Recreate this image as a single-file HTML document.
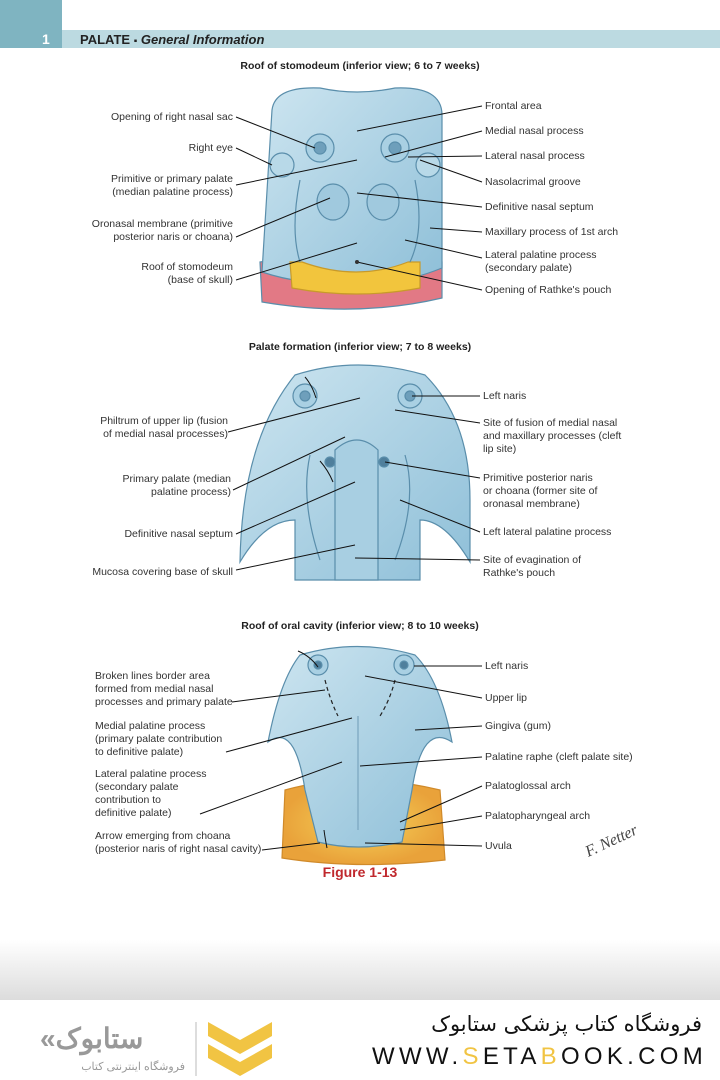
<!DOCTYPE html>
<html><head><meta charset="utf-8"><style>
body{margin:0;width:720px;height:1080px;position:relative;background:#fff;overflow:hidden;font-family:"Liberation Sans","Noto Sans CJK SC",sans-serif;}
.t{position:absolute;font-size:10.5px;color:#333;white-space:nowrap;line-height:13px}
.r{text-align:right}
.h{position:absolute;font-size:10.5px;font-weight:bold;color:#222;width:720px;text-align:center}
</style></head><body>
<div style="position:absolute;left:0;top:0;width:62px;height:48px;background:#7fb4c1"></div>
<div style="position:absolute;left:62px;top:30px;width:658px;height:18px;background:#bcdae1"></div>
<div style="position:absolute;left:42px;top:31px;color:#fff;font-weight:bold;font-size:14px">1</div>
<div style="position:absolute;left:80px;top:32px;font-size:13px;font-weight:bold;color:#222">PALATE <span style="font-size:10px">▪</span> <i>General Information</i></div>

<svg style="position:absolute;left:0;top:0" width="720" height="940">
<defs><linearGradient id="b" x1="0" y1="0" x2="1" y2="1"><stop offset="0" stop-color="#cde5f0"/><stop offset="1" stop-color="#8ebfd8"/></linearGradient>
<radialGradient id="y"><stop offset="0" stop-color="#f6d35a"/><stop offset="1" stop-color="#e9a23a"/></radialGradient></defs>
<g stroke="#5a8eab" stroke-width="1.2">
<path d="M260,262 Q357,248 442,262 L442,298 Q357,318 262,302 Z" fill="#e27985"/>
<path d="M272,110 Q275,86 320,88 Q357,96 395,88 Q442,86 442,115 L442,268 Q400,285 357,285 Q300,285 262,272 Z" fill="url(#b)"/>
<path d="M290,262 L302,262 Q357,282 408,262 L420,262 L420,288 Q357,300 292,288 Z" fill="#f2c53d" stroke="#c89a2a"/>
<circle cx="282" cy="165" r="12" fill="#b8d9e8"/><circle cx="428" cy="165" r="12" fill="#b8d9e8"/>
<circle cx="320" cy="148" r="14" fill="#a9d0e3"/><circle cx="320" cy="148" r="6" fill="#6e9fbb"/>
<circle cx="395" cy="148" r="14" fill="#a9d0e3"/><circle cx="395" cy="148" r="6" fill="#6e9fbb"/>
<ellipse cx="333" cy="202" rx="16" ry="18" fill="#a0c9de"/><ellipse cx="383" cy="202" rx="16" ry="18" fill="#a0c9de"/>
<path d="M300,180 Q290,230 300,262 M415,180 Q425,230 410,262" fill="none"/>
<path d="M295,375 Q357,355 425,375 Q470,420 470,500 L470,562 Q445,520 420,520 L420,580 L295,580 L295,520 Q265,520 240,562 Q242,440 295,375 Z" fill="url(#b)"/>
<path d="M335,450 Q357,430 378,450 L378,580 L335,580 Z" fill="#a8cfe2"/>
<path d="M310,455 Q300,500 320,560 M405,455 Q418,500 395,560" fill="none"/>
<circle cx="305" cy="396" r="12" fill="#a9d0e3"/><circle cx="305" cy="396" r="5" fill="#6e9fbb"/>
<circle cx="410" cy="396" r="12" fill="#a9d0e3"/><circle cx="410" cy="396" r="5" fill="#6e9fbb"/>
<circle cx="330" cy="462" r="5" fill="#4f7f9c"/><circle cx="384" cy="462" r="5" fill="#4f7f9c"/>
<path d="M285,790 Q357,770 440,790 L445,860 Q357,870 282,858 Z" fill="url(#y)" stroke="#d08a2a"/>
<path d="M300,655 Q357,638 415,655 Q440,680 452,742 Q422,722 412,790 L402,842 Q357,852 318,842 L305,790 Q295,722 268,742 Q280,680 300,655 Z" fill="url(#b)"/>
<circle cx="318" cy="665" r="10" fill="#a9d0e3"/><circle cx="318" cy="665" r="4" fill="#4f7f9c"/>
<circle cx="404" cy="665" r="10" fill="#a9d0e3"/><circle cx="404" cy="665" r="4" fill="#4f7f9c"/>
<path d="M325,680 Q330,700 338,716 M395,680 Q390,700 380,716" fill="none" stroke="#222" stroke-dasharray="4,3"/>
<path d="M358,716 L358,830" fill="none" stroke="#7aa5bf"/>
</g>
<g stroke="#111" stroke-width="1" fill="none">
<path d="M305,377 Q312,385 316,398 M320,461 Q328,470 333,482 M298,651 Q310,656 318,667 M324,830 Q325,838 327,848"/>
<path d="M236,117L315,148 M236,148L272,165 M236,185L357,160 M236,237L330,198 M236,280L357,243 M482,106L357,131 M482,131L385,157 M482,156L408,157 M482,182L420,160 M482,207L357,193 M482,232L430,228 M482,258L405,240 M482,290L357,262"/>
<path d="M228,432L360,398 M233,490L345,437 M236,534L355,482 M236,570L355,545 M480,396L412,396 M480,423L395,410 M480,478L385,462 M480,532L400,500 M480,560L355,558"/>
<path d="M232,702L325,690 M226,752L352,718 M200,814L342,762 M262,850L320,843 M482,666L414,666 M482,698L365,676 M482,726L415,730 M482,757L360,766 M482,786L400,822 M482,816L400,830 M482,846L365,843"/>
</g>
<circle cx="357" cy="262" r="2" fill="#333"/>
<text x="580" y="850" font-family="Liberation Serif" font-style="italic" font-size="16" fill="#444" transform="rotate(-25 600 835)">F. Netter</text>
</svg>

<div class="h" style="top:60px">Roof of stomodeum (inferior view; 6 to 7 weeks)</div>
<div class="t r" style="right:487px;top:111px">Opening of right nasal sac</div>
<div class="t r" style="right:487px;top:142px">Right eye</div>
<div class="t r" style="right:487px;top:173px">Primitive or primary palate<br>(median palatine process)</div>
<div class="t r" style="right:487px;top:218px">Oronasal membrane (primitive<br>posterior naris or choana)</div>
<div class="t r" style="right:487px;top:261px">Roof of stomodeum<br>(base of skull)</div>
<div class="t" style="left:485px;top:100px">Frontal area</div>
<div class="t" style="left:485px;top:125px">Medial nasal process</div>
<div class="t" style="left:485px;top:150px">Lateral nasal process</div>
<div class="t" style="left:485px;top:176px">Nasolacrimal groove</div>
<div class="t" style="left:485px;top:201px">Definitive nasal septum</div>
<div class="t" style="left:485px;top:226px">Maxillary process of 1st arch</div>
<div class="t" style="left:485px;top:249px">Lateral palatine process<br>(secondary palate)</div>
<div class="t" style="left:485px;top:284px">Opening of Rathke's pouch</div>

<div class="h" style="top:341px">Palate formation (inferior view; 7 to 8 weeks)</div>
<div class="t r" style="right:492px;top:415px">Philtrum of upper lip (fusion<br>of medial nasal processes)</div>
<div class="t r" style="right:489px;top:473px">Primary palate (median<br>palatine process)</div>
<div class="t r" style="right:487px;top:528px">Definitive nasal septum</div>
<div class="t r" style="right:487px;top:566px">Mucosa covering base of skull</div>
<div class="t" style="left:483px;top:390px">Left naris</div>
<div class="t" style="left:483px;top:417px">Site of fusion of medial nasal<br>and maxillary processes (cleft<br>lip site)</div>
<div class="t" style="left:483px;top:472px">Primitive posterior naris<br>or choana (former site of<br>oronasal membrane)</div>
<div class="t" style="left:483px;top:526px">Left lateral palatine process</div>
<div class="t" style="left:483px;top:554px">Site of evagination of<br>Rathke's pouch</div>

<div class="h" style="top:620px">Roof of oral cavity (inferior view; 8 to 10 weeks)</div>
<div class="t" style="left:95px;top:670px">Broken lines border area<br>formed from medial nasal<br>processes and primary palate</div>
<div class="t" style="left:95px;top:720px">Medial palatine process<br>(primary palate contribution<br>to definitive palate)</div>
<div class="t" style="left:95px;top:768px">Lateral palatine process<br>(secondary palate<br>contribution to<br>definitive palate)</div>
<div class="t" style="left:95px;top:830px">Arrow emerging from choana<br>(posterior naris of right nasal cavity)</div>
<div class="t" style="left:485px;top:660px">Left naris</div>
<div class="t" style="left:485px;top:692px">Upper lip</div>
<div class="t" style="left:485px;top:720px">Gingiva (gum)</div>
<div class="t" style="left:485px;top:751px">Palatine raphe (cleft palate site)</div>
<div class="t" style="left:485px;top:780px">Palatoglossal arch</div>
<div class="t" style="left:485px;top:810px">Palatopharyngeal arch</div>
<div class="t" style="left:485px;top:840px">Uvula</div>
<div style="position:absolute;top:864px;width:720px;text-align:center;color:#c0282d;font-weight:bold;font-size:14px">Figure 1-13</div>

<div style="position:absolute;left:0;top:940px;width:720px;height:60px;background:linear-gradient(#fff,#dcdcdc)"></div>
<svg style="position:absolute;left:0;top:1000px" width="720" height="80">
<path d="M208,22 L240,40 L272,22 L272,36 L240,54 L208,36 Z" fill="#f1c443"/>
<path d="M208,44 L240,62 L272,44 L272,58 L240,76 L208,58 Z" fill="#f1c443"/>
<line x1="196" y1="22" x2="196" y2="76" stroke="#bbb"/>
<text x="40" y="48" font-family="Liberation Sans" font-weight="bold" font-size="28" fill="#999">«ستابوک</text>
<text x="185" y="70" text-anchor="end" font-size="11" fill="#999" font-family="Liberation Sans,sans-serif">فروشگاه اینترنتی کتاب</text>
</svg>
<div style="position:absolute;right:18px;top:1012px;font-size:21px;color:#111;font-family:'DejaVu Sans',sans-serif;direction:rtl">فروشگاه کتاب پزشکی ستابوک</div>
<div style="position:absolute;left:372px;top:1043px;font-size:24px;letter-spacing:4.3px;color:#111">WWW.<span style="color:#f1c443">S</span>ETA<span style="color:#f1c443">B</span>OOK.COM</div>
</body></html>
